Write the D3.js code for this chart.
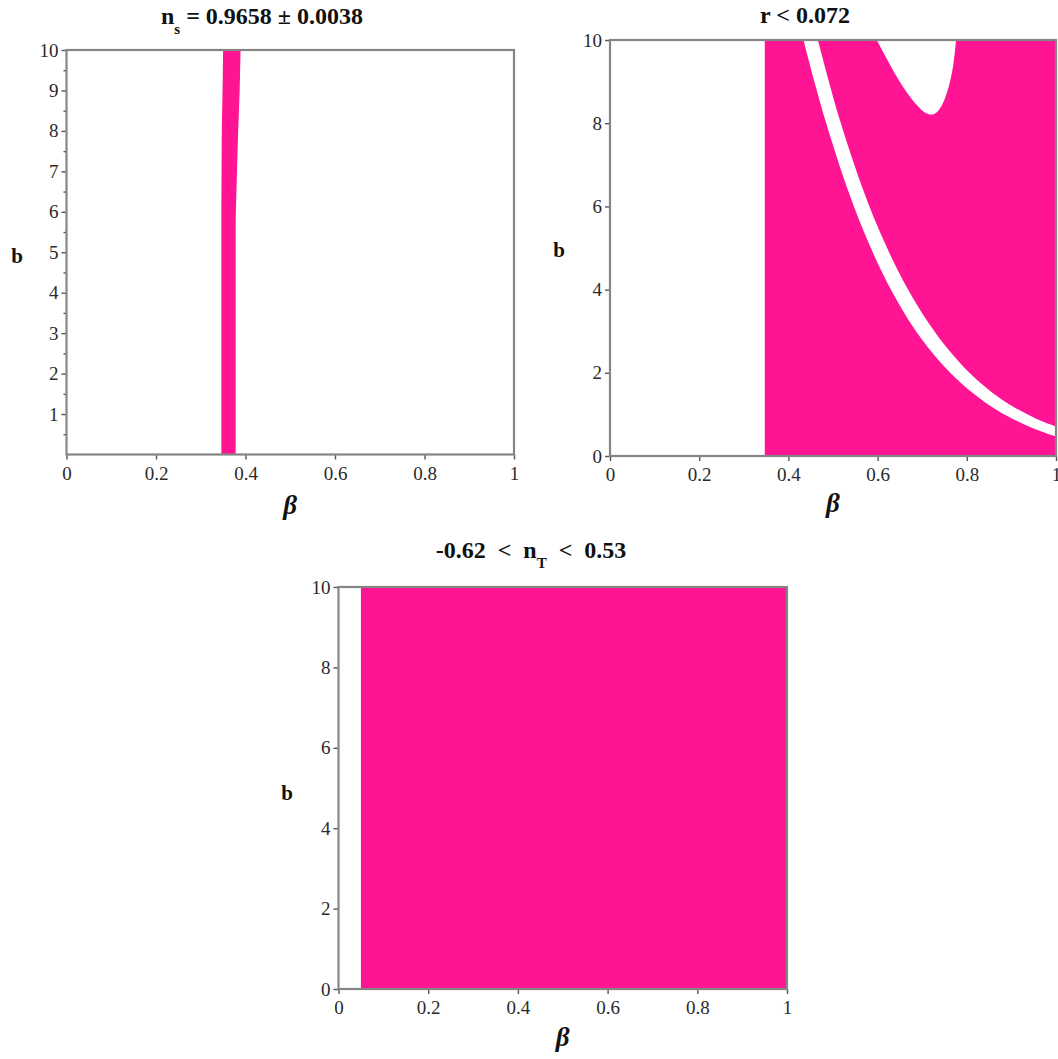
<!DOCTYPE html>
<html><head><meta charset="utf-8">
<script src="https://cdn.jsdelivr.net/npm/d3@7"></script>
<style>
html,body{margin:0;padding:0;background:#fff;}
svg{display:block;}
.tick text{font-family:"Liberation Serif","Times New Roman",serif;font-size:19px;fill:#2a2a2a;}
.ttl{font-family:"Liberation Serif","Times New Roman",serif;font-weight:bold;font-size:24px;fill:#111;white-space:pre;}
.axl{font-family:"Liberation Serif","Times New Roman",serif;font-weight:bold;fill:#111;}
</style></head><body>
<svg id="chart" width="1058" height="1059"></svg>
<script>
// ---------- data ----------
const X_TICKS = [0, 0.2, 0.4, 0.6, 0.8, 1];
const X_TICK_LABELS = ["0", "0.2", "0.4", "0.6", "0.8", "1"];
const Y_TICKS_NS = [1, 2, 3, 4, 5, 6, 7, 8, 9, 10];
const Y_MINOR_NS = [0.5, 1.5, 2.5, 3.5, 4.5, 5.5, 6.5, 7.5, 8.5, 9.5];
const Y_TICKS = [0, 2, 4, 6, 8, 10];
const B_RANGE = [0, 10];

// Panel 1: n_s band, edges as [beta, b]
const NS_LEFT_EDGE = [[0.346, 0], [0.346, 6], [0.347, 8], [0.349, 9.2], [0.350, 10]];
const NS_RIGHT_EDGE = [[0.389, 10], [0.387, 9], [0.383, 7.8], [0.378, 5.8], [0.378, 0]];

// Panel 2: r < 0.072  (excluded white strip and white pocket), [beta, b]
const R_ALLOWED_FROM = 0.347;
const R_GAP_LOWER = [[0.4248, 10.40], [0.4348, 9.959], [0.4599, 8.936], [0.4850, 7.992], [0.5348, 6.351],
  [0.5848, 4.998], [0.6353, 3.894], [0.6861, 2.998], [0.7377, 2.288], [0.7900, 1.723], [0.8421, 1.283],
  [0.8940, 0.942], [0.9456, 0.682], [0.9967, 0.482], [1.017, 0.42]];
const R_GAP_UPPER = [[0.4552, 10.48], [0.4652, 10.041], [0.4901, 9.024], [0.5150, 8.088], [0.5652, 6.469],
  [0.6152, 5.142], [0.6648, 4.067], [0.7139, 3.202], [0.7623, 2.512], [0.8100, 1.957], [0.8579, 1.517],
  [0.9060, 1.172], [0.9545, 0.902], [1.0033, 0.696], [1.023, 0.63]];
const R_HOLE = [[0.598, 10], [0.618, 9.6], [0.638, 9.2], [0.658, 8.85], [0.678, 8.55], [0.697, 8.32],
  [0.715, 8.19], [0.731, 8.22], [0.744, 8.40], [0.755, 8.70], [0.764, 9.05], [0.771, 9.45], [0.776, 10]];

// Panel 3: n_T
const NT_ALLOWED_FROM = 0.05;

const PINK = "#ff1493";
const svg = d3.select("#chart");
let clipN = 0;

function panel(cfg) {
  const x = d3.scaleLinear().domain([0, 1]).range([cfg.x0, cfg.x1]);
  const y = d3.scaleLinear().domain(B_RANGE).range([cfg.yB, cfg.yT]);
  const g = svg.append("g");
  const id = "clip" + (clipN++);
  g.append("clipPath").attr("id", id).append("rect")
    .attr("x", x(0)).attr("y", y(10)).attr("width", x(1) - x(0)).attr("height", y(0) - y(10));
  const fills = g.append("g").attr("clip-path", `url(#${id})`);
  const lin = d3.line().x(d => x(d[0])).y(d => y(d[1]));
  const smooth = d3.line().x(d => x(d[0])).y(d => y(d[1])).curve(d3.curveCatmullRom.alpha(0.5));
  const soft = d3.line().x(d => x(d[0])).y(d => y(d[1])).curve(d3.curveBasis);
  cfg.draw(fills, x, y, lin, smooth, soft);

  // ticks
  g.append("g").attr("transform", `translate(0,${y(0)})`)
    .call(d3.axisBottom(x).tickValues(X_TICKS).tickFormat((d, i) => X_TICK_LABELS[i]).tickSize(5).tickPadding(7));
  g.append("g").attr("transform", `translate(${x(0)},0)`)
    .call(d3.axisLeft(y).tickValues(cfg.yTicks).tickFormat(d3.format("d")).tickSize(5).tickPadding(3));
  if (cfg.yMinor) {
    g.append("g").attr("transform", `translate(${x(0)},0)`)
      .call(d3.axisLeft(y).tickValues(cfg.yMinor).tickFormat("").tickSize(3));
  }
  g.selectAll(".domain").remove();
  g.selectAll(".tick line").attr("stroke", "#555").attr("stroke-width", 1.4);

  // frame
  g.append("rect").attr("x", x(0)).attr("y", y(10)).attr("width", x(1) - x(0)).attr("height", y(0) - y(10))
    .attr("fill", "none").attr("stroke", "#858585").attr("stroke-width", 2.2);

  // axis labels
  g.append("text").attr("class", "axl").attr("x", cfg.bx).attr("y", cfg.by).attr("text-anchor", "middle")
    .attr("font-size", 21).text("b");
  g.append("text").attr("class", "axl").attr("x", (x(0) + x(1)) / 2).attr("y", cfg.betaY).attr("text-anchor", "middle")
    .attr("font-size", 27).attr("font-style", "italic").text("β");

  // title
  const t = g.append("text").attr("class", "ttl").attr("x", cfg.tx).attr("y", cfg.ty).attr("text-anchor", "middle");
  cfg.title(t);
}

// Panel 1
panel({
  x0: 66.5, x1: 514, yB: 454.5, yT: 50, yTicks: Y_TICKS_NS, yMinor: Y_MINOR_NS,
  bx: 17, by: 263, betaY: 514, tx: 262, ty: 24,
  draw: (g, x, y, lin) => {
    g.append("path").attr("d", lin(NS_LEFT_EDGE.concat(NS_RIGHT_EDGE)) + "Z").attr("fill", PINK);
  },
  title: t => {
    t.append("tspan").text("n");
    t.append("tspan").attr("dy", 10).attr("font-size", 15).text("s");
    t.append("tspan").attr("dy", -10).text(" = 0.9658 ± 0.0038");
  }
});

// Panel 2
panel({
  x0: 610, x1: 1056, yB: 456, yT: 40, yTicks: Y_TICKS,
  bx: 559, by: 257, betaY: 512, tx: 805, ty: 23,
  draw: (g, x, y, lin, smooth, soft) => {
    const rect = [[R_ALLOWED_FROM, B_RANGE[0]], [R_ALLOWED_FROM, B_RANGE[1]], [1, B_RANGE[1]], [1, B_RANGE[0]]];
    g.append("path").attr("d", lin(rect) + "Z").attr("fill", PINK);
    const up = R_GAP_UPPER.slice().reverse();
    const d = smooth(R_GAP_LOWER) + "L" + smooth(up).slice(1) + "Z";
    g.append("path").attr("d", d).attr("fill", "#fff");
    g.append("path").attr("d", soft(R_HOLE) + "Z").attr("fill", "#fff");
  },
  title: t => { t.text("r < 0.072"); }
});

// Panel 3
panel({
  x0: 338.5, x1: 787, yB: 989, yT: 587, yTicks: Y_TICKS,
  bx: 287, by: 800, betaY: 1046, tx: 531, ty: 558,
  draw: (g, x, y, lin) => {
    const rect = [[NT_ALLOWED_FROM, B_RANGE[0]], [NT_ALLOWED_FROM, B_RANGE[1]], [1, B_RANGE[1]], [1, B_RANGE[0]]];
    g.append("path").attr("d", lin(rect) + "Z").attr("fill", PINK);
  },
  title: t => {
    t.append("tspan").text("-0.62\u2002<\u2002n");
    t.append("tspan").attr("dy", 10).attr("font-size", 15).text("T");
    t.append("tspan").attr("dy", -10).text("\u2002<\u20020.53");
  }
});
</script></body></html>
